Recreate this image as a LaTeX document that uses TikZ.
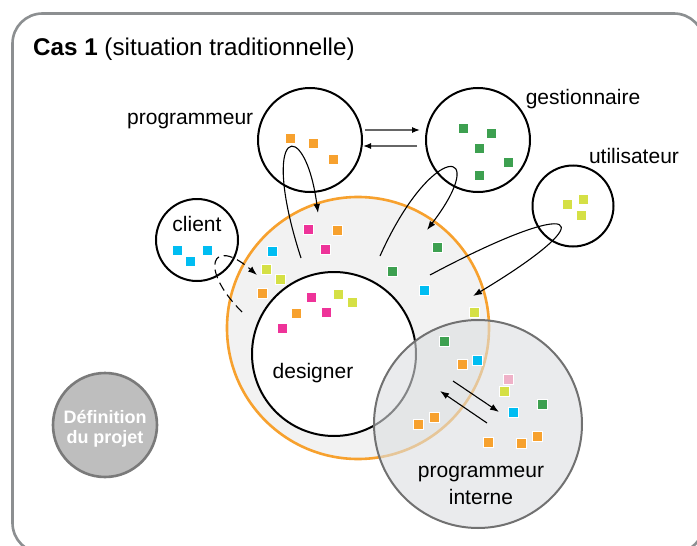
\documentclass[tikz,border=0pt]{standalone}
\usepackage{fontspec}
\setmainfont{Liberation Sans}
\usetikzlibrary{arrows.meta}
\definecolor{cOr}{HTML}{F7A12E}
\definecolor{cGr}{HTML}{3DA050}
\definecolor{cCy}{HTML}{00BDF2}
\definecolor{cYe}{HTML}{D5E045}
\definecolor{cMa}{HTML}{EE3399}
\definecolor{cPk}{HTML}{EFB1C8}
\definecolor{frameC}{HTML}{8C8F91}
\definecolor{ringFill}{HTML}{F2F2F2}
\definecolor{intFill}{HTML}{DCDFE1}
\definecolor{intLine}{HTML}{717171}
\definecolor{defFill}{HTML}{BEBEBE}
\definecolor{defLine}{HTML}{7A7A7A}
\begin{document}
\begin{tikzpicture}[x=1pt,y=-1pt,
  circ/.style={circle,draw=black,line width=2pt,fill=white,inner sep=0pt},
  sq/.style={rectangle,minimum size=10pt,inner sep=0pt,draw=white,line width=0.4pt},
  lbl/.style={inner sep=0pt,font=\fontsize{21}{23}\selectfont},
  conn/.style={line width=1.1pt,black},
  tip/.style={-{Latex[length=9pt,width=6.5pt]}},
  grayconn/.style={line width=1.3pt,black!60,-{Latex[length=8pt,width=6pt,black]}}
]
\useasboundingbox (0,0) rectangle (697,546);
\clip (0,0) rectangle (697,546);
% frame
\draw[frameC,line width=2.6pt,fill=white,rounded corners=30pt] (12.5,13.5) rectangle (704,553);
% orange ring
\node[circle,draw=cOr,line width=2.6pt,fill=ringFill,minimum size=262pt,inner sep=0pt] (ring) at (358,328) {};
% designer
\node[circ,minimum size=164pt] (des) at (334,354) {};
% other circles
\node[circ,minimum size=104pt] (prog) at (310,140) {};
\node[circ,minimum size=104pt] (gest) at (478,140) {};
\node[circ,minimum size=81pt] (util) at (573,206) {};
\node[circ,minimum size=82pt] (cli) at (197,240) {};
% definition du projet
\node[circle,draw=defLine,line width=2.6pt,fill=defFill,minimum size=104pt,inner sep=0pt] (def) at (105,425) {};
% connectors between programmeur and gestionnaire
\coordinate (pg1) at (365,130); \coordinate (pg2) at (420,130);
\coordinate (gp1) at (417,146); \coordinate (gp2) at (363,146);
\draw[grayconn] (pg1) -- (pg2);
\draw[grayconn] (gp1) -- (gp2);
% loop programmeur
\coordinate (l1s) at (301,258); \coordinate (l1e) at (318,213);
\draw[conn,tip] (l1s) .. controls (258,125) and (305,115) .. (l1e);
% loop gestionnaire
\coordinate (l2s) at (380,256); \coordinate (l2e) at (427,230);
\draw[conn,tip] (l2s) .. controls (432,140) and (492,145) .. (l2e);
% loop utilisateur
\coordinate (l3s) at (430,275); \coordinate (l3e) at (473,296);
\draw[conn,tip] (l3s) .. controls (580,195) and (608,215) .. (l3e);
% dashed client
\coordinate (l4s) at (242,312); \coordinate (l4e) at (257,275);
\draw[conn,tip,dash pattern=on 9pt off 5pt] (l4s) .. controls (198,268) and (212,236) .. (l4e);
% programmeur interne (translucent)
\node[circle,draw=intLine,line width=2pt,fill=intFill,fill opacity=0.6,draw opacity=1,minimum size=208pt,inner sep=0pt] (int) at (478,424) {};
% arrows inside interne
\coordinate (a1s) at (453,381); \coordinate (a1e) at (499,412);
\coordinate (a2s) at (487,423); \coordinate (a2e) at (440,391);
\draw[conn,tip] (a1s) -- (a1e);
\draw[conn,tip] (a2s) -- (a2e);
% squares
\foreach \n/\x/\y in {p1/290/138,p2/313/143,p3/333/159,r1/337/230,r2/262/293,d1/296/313,i1/462/364,i2/434/417,i3/418/424,i4/488/442,i5/521/443,i6/537/436}
  \node[sq,fill=cOr] (\n) at (\x,\y) {};
\foreach \n/\x/\y in {g1/463/128,g2/491/133,g3/479/148,g4/508/162,g5/479/175,r3/437/247,r4/392/271,i7/444/341,i8/542/404}
  \node[sq,fill=cGr] (\n) at (\x,\y) {};
\foreach \n/\x/\y in {u1/567/204,u2/583/199,u3/581/215,r5/266/269,r6/280/279,r7/474/312,d2/338/294,d3/352/302,i9/504/391}
  \node[sq,fill=cYe] (\n) at (\x,\y) {};
\foreach \n/\x/\y in {c1/177/250,c2/207/250,c3/190/261,r8/272/251,r9/424/290,i10/477/360,i11/513/412}
  \node[sq,fill=cCy] (\n) at (\x,\y) {};
\foreach \n/\x/\y in {r10/308/229,r11/325/249,d4/311/297,d5/326/312,d6/282/328}
  \node[sq,fill=cMa] (\n) at (\x,\y) {};
\node[sq,fill=cPk] (i12) at (508,379) {};
% texts
\node[inner sep=0pt,anchor=base west,font=\fontsize{24.2}{27}\selectfont] (title) at (33,55) {\textbf{Cas 1} (situation traditionnelle)};
\node[lbl,anchor=base west] (tprog) at (127,124) {programmeur};
\node[lbl,anchor=base] (tgest) at (583,104) {gestionnaire};
\node[lbl,anchor=base] (tutil) at (634,163) {utilisateur};
\node[lbl,anchor=base] (tcli) at (197,231) {client};
\node[lbl,anchor=base] (tdes) at (313,378) {designer};
\node[lbl,anchor=base] (tint1) at (481,477) {programmeur};
\node[lbl,anchor=base] (tint2) at (481,504) {interne};
\node[inner sep=0pt,anchor=base,text=white,font=\bfseries\fontsize{18}{20}\selectfont] (tdef1) at (105,423) {Définition};
\node[inner sep=0pt,anchor=base,text=white,font=\bfseries\fontsize{18}{20}\selectfont] (tdef2) at (105,443) {du projet};
\end{tikzpicture}
\end{document}
